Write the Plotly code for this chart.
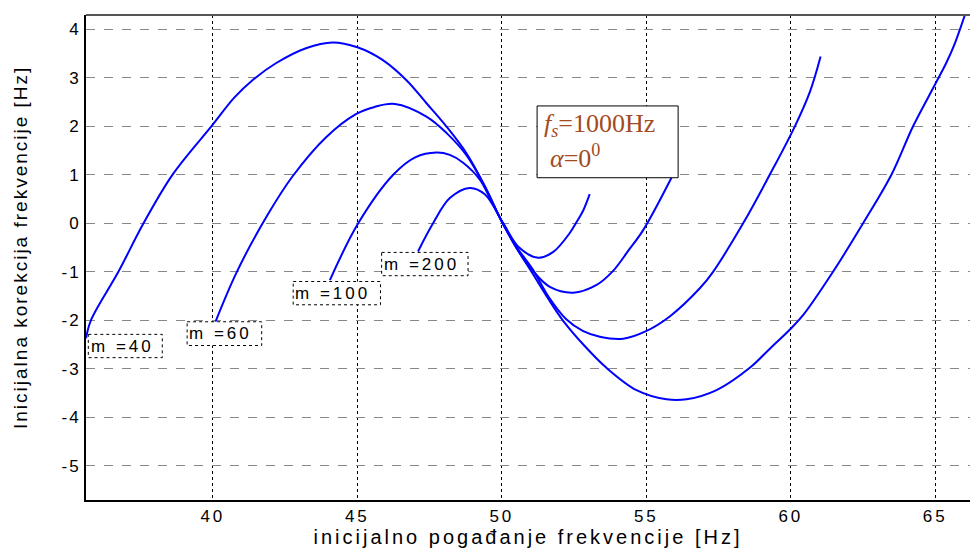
import plotly.graph_objects as go

# ---- data ----
m40_x = [35.61, 35.78, 36.73, 37.6, 38.6, 39.99, 40.74, 41.37, 42.18, 43.22, 44.14, 45.0, 45.87, 46.7, 47.4, 48.09, 48.78, 49.4, 50.03, 50.55, 51.08, 51.6, 52.11, 52.85, 53.62, 54.66, 55.7, 56.39, 57.43, 58.58, 59.3, 59.97, 60.43, 61.46, 62.5, 63.48, 64.23, 64.98, 65.39, 65.67, 66.02]
m40_y = [-2.37, -2.0, -1.0, 0.0, 1.0, 2.03, 2.59, 2.95, 3.30, 3.61, 3.73, 3.63, 3.37, 2.95, 2.47, 1.99, 1.44, 0.78, 0.0, -0.55, -1.05, -1.55, -2.0, -2.52, -2.98, -3.44, -3.63, -3.63, -3.44, -2.98, -2.57, -2.19, -1.89, -1.0, 0.0, 1.0, 2.0, 2.85, 3.32, 3.7, 4.29]

m60_x = [40.09, 40.83, 41.89, 42.76, 43.91, 44.95, 45.6, 46.3, 47.39, 48.09, 48.78, 49.4, 50.03, 50.55, 51.08, 51.6, 52.23, 52.8, 53.39, 54.2, 54.97, 55.81, 56.85, 57.31, 58.35, 59.27, 60.14, 60.66, 61.03]
m60_y = [-2.03, -1.0, 0.17, 0.97, 1.77, 2.25, 2.40, 2.46, 2.2, 1.86, 1.40, 0.77, 0.0, -0.52, -0.96, -1.5, -1.98, -2.22, -2.34, -2.38, -2.23, -1.92, -1.34, -1.0, 0.0, 1.0, 2.0, 2.71, 3.44]

m100_x = [44.05, 45.03, 46.24, 47.0, 47.74, 48.2, 48.66, 49.24, 49.6, 50.03, 50.55, 51.1, 51.66, 52.47, 53.28, 53.85, 54.37, 54.89, 55.87]
m100_y = [-1.17, 0.0, 1.0, 1.36, 1.46, 1.41, 1.25, 0.9, 0.5, 0.0, -0.55, -1.0, -1.31, -1.43, -1.27, -0.98, -0.57, -0.14, 0.94]

m200_x = [47.1, 47.62, 48.2, 48.89, 49.41, 50.05, 50.6, 51.26, 51.78, 52.35, 52.58, 52.82, 53.04]
m200_y = [-0.58, 0.0, 0.52, 0.73, 0.6, 0.0, -0.5, -0.71, -0.59, -0.2, 0.02, 0.27, 0.6]

series = [("m=40", m40_x, m40_y), ("m=60", m60_x, m60_y),
          ("m=100", m100_x, m100_y), ("m=200", m200_x, m200_y)]

x_ticks = [40, 45, 50, 55, 60, 65]
y_ticks = [-5, -4, -3, -2, -1, 0, 1, 2, 3, 4]

labels = ["m =40", "m =60", "m =100", "m =200"]

SANS = "Liberation Sans, Arial, sans-serif"
SERIF = "Liberation Serif, Times New Roman, serif"
BROWN = "#A34A1E"

def spaced(t, ls=2):
    return '<span style="letter-spacing:%spx">%s</span>' % (ls, t)

fig = go.Figure()
for name, xs, ys in series:
    fig.add_trace(go.Scatter(x=xs, y=ys, mode="lines", name=name,
                             line=dict(color="#0000FF", width=2, shape="spline", smoothing=1.0),
                             showlegend=False, hoverinfo="skip"))

# label boxes (data coordinates): x0, x1, y0, y1
boxes = [(35.69, 38.25, -2.29, -2.77), (39.11, 41.69, -2.03, -2.52),
         (42.78, 45.80, -1.20, -1.68), (45.84, 48.83, -0.60, -1.08)]
shapes = []
annotations = []
for (x0, x1, y0, y1), lab in zip(boxes, labels):
    shapes.append(dict(type="rect", xref="x", yref="y", x0=x0, x1=x1, y0=y0, y1=y1,
                       line=dict(color="black", width=1, dash="dot"), fillcolor="white", layer="above"))
    annotations.append(dict(x=x0 + 0.01, y=(y0 + y1) / 2, xref="x", yref="y", xanchor="left", yanchor="middle",
                            text=spaced(lab, 3), showarrow=False, font=dict(family=SANS, size=17, color="black")))

# parameter box
shapes.append(dict(type="rect", xref="x", yref="y", x0=51.22, x1=56.10, y0=0.94, y1=2.42,
                   line=dict(color="black", width=1), fillcolor="white", layer="above"))
annotations.append(dict(x=51.40, y=2.03, xref="x", yref="y", xanchor="left", yanchor="middle",
                        text="<i>f<sub>s</sub></i>=1000Hz", showarrow=False,
                        font=dict(family=SERIF, size=26, color=BROWN)))
annotations.append(dict(x=51.60, y=1.37, xref="x", yref="y", xanchor="left", yanchor="middle",
                        text="<i>α</i>=0<sup>0</sup>", showarrow=False,
                        font=dict(family=SERIF, size=26, color=BROWN)))

# y axis title as annotation (placed like the reference)
annotations.append(dict(x=-0.0747, y=0.5216, xref="paper", yref="paper", xanchor="center", yanchor="middle",
                        textangle=-90, showarrow=False,
                        text=spaced("Inicijalna korekcija frekvencije [Hz]", 2),
                        font=dict(family=SANS, size=19, color="black")))

# top frame line
shapes.append(dict(type="line", xref="paper", yref="paper", x0=0, x1=1, y0=1, y1=1,
                   line=dict(color="#555555", width=2)))

fig.update_layout(
    width=970, height=548,
    margin=dict(l=86, r=0, t=15, b=48),
    plot_bgcolor="white", paper_bgcolor="white",
    shapes=shapes, annotations=annotations,
    xaxis=dict(range=[35.61, 66.2], tickvals=x_ticks, ticktext=[spaced(str(v), 3) for v in x_ticks],
               showgrid=True, gridcolor="black", griddash="dot", gridwidth=1,
               showline=True, linecolor="black", linewidth=2, zeroline=False, ticks="",
               tickfont=dict(family=SANS, size=17, color="black"),
               title=dict(text=spaced("inicijalno pogađanje frekvencije [Hz]", 3),
                          font=dict(family=SANS, size=20, color="black"), standoff=3)),
    yaxis=dict(range=[-5.705, 4.295], tickvals=y_ticks, ticktext=[spaced(str(v), 2) for v in y_ticks],
               showgrid=True, gridcolor="#888888", griddash="dash", gridwidth=1,
               showline=True, linecolor="black", linewidth=2, zeroline=False, ticks="",
               tickfont=dict(family=SANS, size=17, color="black")),
)

fig.write_html("out.html")
